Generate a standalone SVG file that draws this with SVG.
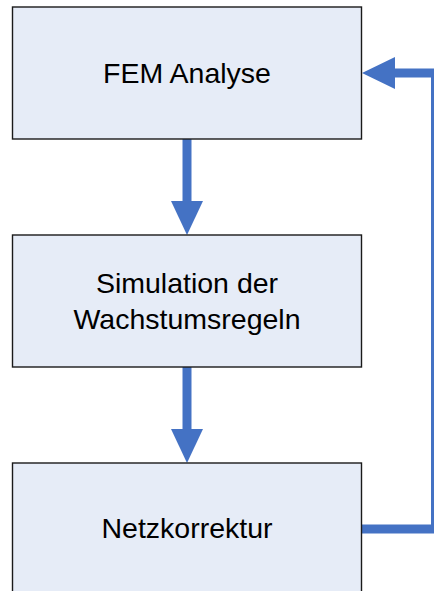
<svg xmlns="http://www.w3.org/2000/svg" width="434" height="591" viewBox="0 0 434 591">
<style>
.box{fill:#E6ECF7;stroke:#1a1a1a;stroke-width:1.4}
.lbl{font-family:"Liberation Sans",Arial,sans-serif;font-size:28.5px;fill:#000;text-anchor:middle}
.conn{fill:none;stroke:#4472C4;stroke-width:9}
.head{fill:#4472C4}
</style>
<rect width="434" height="591" fill="#fff"/>
<g id="connectors">
<line class="conn" x1="187" y1="139" x2="187" y2="203"/>
<polygon class="head" points="171,201 203,201 187,235"/>
<line class="conn" x1="187" y1="367" x2="187" y2="431"/>
<polygon class="head" points="171,429 203,429 187,463"/>
<polyline class="conn" points="361,529 435.5,529 435.5,73 393,73"/>
<polygon class="head" points="395,57 395,89 362,73"/>
</g>
<g id="node-fem">
<rect class="box" x="12.5" y="7" width="349" height="132"/>
<text class="lbl" x="187" y="83">FEM Analyse</text>
</g>
<g id="node-sim">
<rect class="box" x="12.5" y="235" width="349" height="132"/>
<text class="lbl" x="187" y="293">Simulation der</text>
<text class="lbl" x="187" y="328.5">Wachstumsregeln</text>
</g>
<g id="node-netz">
<rect class="box" x="12.5" y="463" width="349" height="140"/>
<text class="lbl" x="187" y="538">Netzkorrektur</text>
</g>
</svg>
